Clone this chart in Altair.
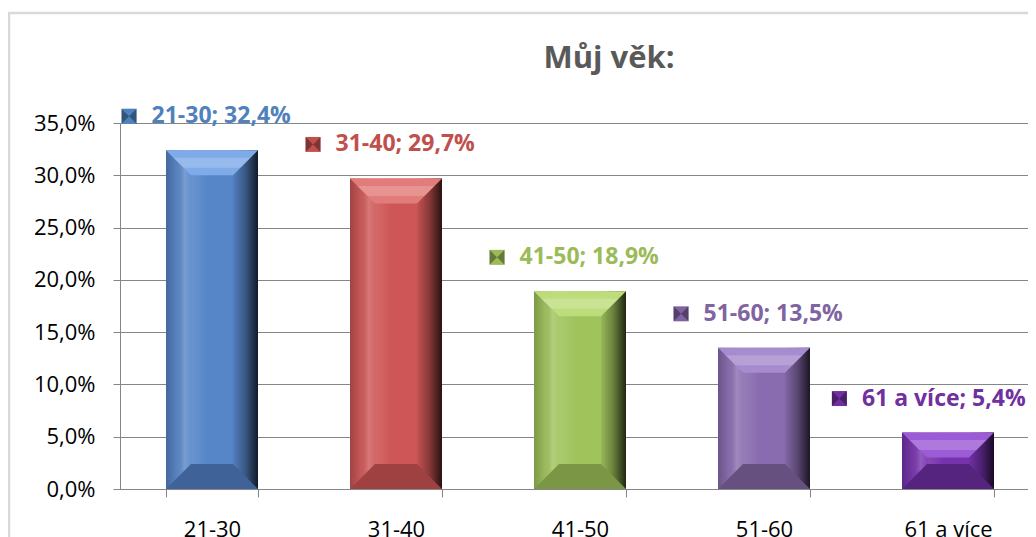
import altair as alt
import pandas as pd

# ---- data ----
cats = ["21-30", "31-40", "41-50", "51-60", "61 a více"]
vals = [32.4, 29.7, 18.9, 13.5, 5.4]
y_ticks = [0, 5, 10, 15, 20, 25, 30, 35]
title_text = "Můj věk:"

# ---- styles ----
front_colors = ["#5686C8", "#CF5656", "#A0C35C", "#896CAF", "#7733AE"]
top_colors = ["#7FABE8", "#E27C7B", "#BDDD7C", "#A68BCE", "#9C5CD6"]
bottom_colors = ["#3F6399", "#9F4140", "#7B9745", "#66507F", "#55247F"]
label_colors = ["#4F81BD", "#C0504D", "#9BBB59", "#8064A2", "#7030A0"]
FONT = "Open Sans"

# ---- layout ----
PLOT_W = 920
VIEW_W = 908
H = 366
STEP = PLOT_W / len(cats)
BAR_W = STEP / 2
BEVEL = 25
LABEL_FS = 23
LABEL_DY = -34
LABEL_SHIFT = -6
MARK_SZ = 15
GAP = 15

# approximate Open Sans Bold advance widths (em)
cw = {c: 0.572 for c in "0123456789"}
cw.update({"-": 0.322, ";": 0.285, " ": 0.28, ",": 0.285, "%": 0.864,
           "a": 0.62, "v": 0.6, "í": 0.32, "c": 0.52, "e": 0.6})

labels = [f"{c}; {v:.1f}%".replace(".", ",") for c, v in zip(cats, vals)]
moff, toff = [], []
for i, lab in enumerate(labels):
    w = sum(cw.get(ch, 0.6) for ch in lab) * LABEL_FS
    g = MARK_SZ + GAP + w
    center = STEP * (i + 0.5)
    start = min(-g / 2 + LABEL_SHIFT, (PLOT_W - 12) - center - g)
    # offsets are measured from the band start, so add half a bar width
    moff.append(start + MARK_SZ / 2 + BAR_W / 2)
    toff.append(start + MARK_SZ + GAP + BAR_W / 2)

df = pd.DataFrame({"cat": cats, "val": vals, "label": labels,
                   "moff": moff, "toff": toff})

xs = alt.Scale(domain=cats, range=[0, PLOT_W], paddingInner=0.5, paddingOuter=0.25)
x = alt.X("cat:N", sort=cats, scale=xs, title=None,
          axis=alt.Axis(tickBand="extent", labelAngle=0, labelFontSize=22,
                        labelFont=FONT, labelColor="#000000", domainColor="#868686",
                        tickColor="#868686", tickSize=8, labelPadding=22,
                        labelOverlap=False, labelFlush=False))
y = alt.Y("val:Q", scale=alt.Scale(domain=[0, 35], nice=False, zero=True), title=None,
          axis=alt.Axis(values=y_ticks,
                        labelExpr="replace(format(datum.value,'.1f'),'.',',')+'%'",
                        grid=True, gridColor="#868686", gridWidth=1,
                        domainColor="#868686", tickColor="#868686", tickSize=7,
                        labelPadding=18, labelFontSize=22, labelFont=FONT,
                        labelColor="#000000", labelFlush=False))


def cscale(rng):
    return alt.Color("cat:N", scale=alt.Scale(domain=cats, range=rng), legend=None)


base = alt.Chart(df)

front = base.mark_bar().encode(x=x, y=y, color=cscale(front_colors))

grad_front = alt.LinearGradient(gradient="linear", x1=0, x2=1, y1=0, y2=0, stops=[
    alt.GradientStop(color="rgba(255,255,255,0.0)", offset=0),
    alt.GradientStop(color="rgba(255,255,255,0.10)", offset=0.3),
    alt.GradientStop(color="rgba(255,255,255,0.0)", offset=0.45),
    alt.GradientStop(color="rgba(255,255,255,0.0)", offset=1)])
front_sh = base.mark_bar(color=grad_front).encode(x=x, y=y)

grad_left = alt.LinearGradient(gradient="linear", x1=0, x2=1, y1=0, y2=0, stops=[
    alt.GradientStop(color="rgba(0,0,0,0.22)", offset=0),
    alt.GradientStop(color="rgba(0,0,0,0.05)", offset=0.45),
    alt.GradientStop(color="rgba(255,255,255,0.14)", offset=0.75),
    alt.GradientStop(color="rgba(255,255,255,0.0)", offset=1)])
grad_right = alt.LinearGradient(gradient="linear", x1=0, x2=1, y1=0, y2=0, stops=[
    alt.GradientStop(color="rgba(0,0,0,0.05)", offset=0),
    alt.GradientStop(color="rgba(0,0,0,0.35)", offset=0.5),
    alt.GradientStop(color="rgba(0,0,0,0.8)", offset=1)])

left = base.mark_bar(width=BEVEL, xOffset=-(BAR_W - BEVEL) / 2,
                     color=grad_left).encode(x=x, y=y)
right = base.mark_bar(width=BEVEL, xOffset=(BAR_W - BEVEL) / 2,
                      color=grad_right).encode(x=x, y=y)

k = BEVEL / (BAR_W / 2)
inner = 1 - k
TOP_PATH = f"M -1 0 L 1 0 L {inner:.3f} {k:.3f} L {-inner:.3f} {k:.3f} Z"
BOT_PATH = f"M -1 0 L 1 0 L {inner:.3f} {-k:.3f} L {-inner:.3f} {-k:.3f} Z"
a1, a2 = 0.3 * k, 0.7 * k
HL_PATH = (f"M {-(1 - a1):.3f} {a1:.3f} L {1 - a1:.3f} {a1:.3f} "
           f"L {1 - a2:.3f} {a2:.3f} L {-(1 - a2):.3f} {a2:.3f} Z")

top = base.mark_point(shape=TOP_PATH, size=BAR_W ** 2, filled=True, opacity=1,
                      strokeWidth=0).encode(x=x, y=y, color=cscale(top_colors))
top_hl = base.mark_point(shape=HL_PATH, size=BAR_W ** 2, filled=True, opacity=0.18,
                         strokeWidth=0, color="white").encode(x=x, y=y)
bottom = base.mark_point(shape=BOT_PATH, size=BAR_W ** 2, filled=True, opacity=1,
                         strokeWidth=0).encode(x=x, y=alt.datum(0),
                                               color=cscale(bottom_colors))

marker = base.mark_point(shape="square", size=MARK_SZ ** 2, filled=True, opacity=1,
                         strokeWidth=0, yOffset=LABEL_DY).encode(
    x=x, y=y, xOffset=alt.XOffset("moff:Q", scale=None), color=cscale(label_colors))
BOW = "M -1 -1 L 0 0 L -1 1 Z M 1 -1 L 0 0 L 1 1 Z"
marker_sh = base.mark_point(shape=BOW, size=MARK_SZ ** 2, filled=True, opacity=0.35,
                            strokeWidth=0, color="black", yOffset=LABEL_DY).encode(
    x=x, y=y, xOffset=alt.XOffset("moff:Q", scale=None))
text = base.mark_text(align="left", baseline="middle", fontSize=LABEL_FS,
                      fontWeight="bold", font=FONT, yOffset=LABEL_DY).encode(
    x=x, y=y, xOffset=alt.XOffset("toff:Q", scale=None), text="label:N",
    color=cscale(label_colors))

title = alt.Chart(pd.DataFrame({"t": [title_text]})).mark_text(
    font=FONT, fontSize=31, fontWeight="bold", color="#595959",
    align="center", baseline="alphabetic").encode(
    x=alt.value(489), y=alt.value(-55), text="t:N")

frame_l = alt.Chart(pd.DataFrame({"a": [0]})).mark_rule(
    color="#d9d9d9", strokeWidth=2.5).encode(
    x=alt.value(-111), y=alt.value(-110), y2=alt.value(460))
frame_t = alt.Chart(pd.DataFrame({"a": [0]})).mark_rule(
    color="#d9d9d9", strokeWidth=2.5).encode(
    x=alt.value(-112), x2=alt.value(940), y=alt.value(-110))

chart = alt.layer(frame_l, frame_t, front, front_sh, left, right, top, top_hl, bottom,
                  marker, marker_sh, text, title).resolve_scale(
    color="independent").properties(
    width=VIEW_W, height=H,
    padding={"left": 112, "top": 115, "right": 0, "bottom": 56},
    autosize=alt.AutoSizeParams(type="none"),
).configure_view(stroke=None).configure(background="white")

chart.save("out.html", embed_options={"renderer": "svg", "actions": False})
